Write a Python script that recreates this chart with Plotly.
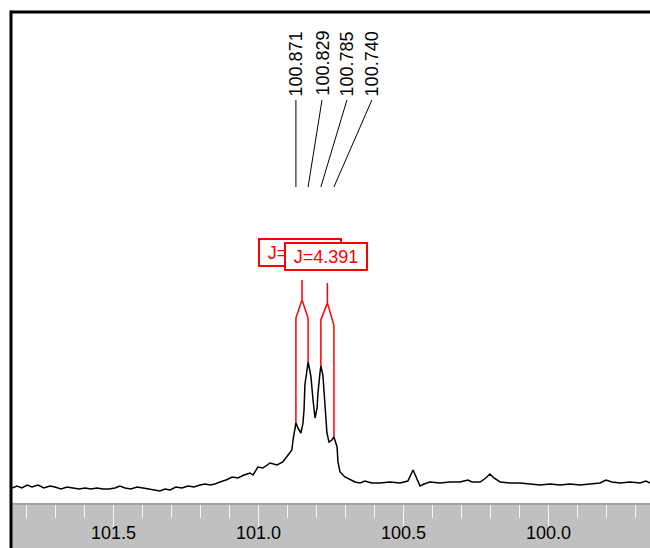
import numpy as np
import plotly.graph_objects as go

# ---- data ----
ppm = [101.850, 101.833, 101.816, 101.798, 101.781, 101.760, 101.740, 101.719, 101.702, 101.681,
       101.660, 101.640, 101.619, 101.598, 101.578, 101.557, 101.536, 101.516, 101.495, 101.478,
       101.460, 101.440, 101.419, 101.398, 101.378, 101.357, 101.340, 101.322, 101.305, 101.285,
       101.264, 101.243, 101.222, 101.202, 101.184, 101.167, 101.150, 101.133, 101.112, 101.091,
       101.071, 101.050, 101.029, 101.019, 101.002, 100.985, 100.960, 100.936, 100.916, 100.898,
       100.885, 100.881, 100.874, 100.871, 100.864, 100.854, 100.847, 100.843, 100.840, 100.833,
       100.829, 100.822, 100.819, 100.812, 100.809, 100.805, 100.798, 100.795, 100.788, 100.785,
       100.778, 100.771, 100.764, 100.757, 100.747, 100.740, 100.729, 100.726, 100.719, 100.702,
       100.684, 100.667, 100.650, 100.633, 100.622, 100.609, 100.581, 100.547, 100.512, 100.485,
       100.467, 100.457, 100.443, 100.429, 100.409, 100.374, 100.340, 100.305, 100.278, 100.264,
       100.236, 100.216, 100.202, 100.188, 100.167, 100.133, 100.098, 100.064, 100.029, 99.995,
       99.960, 99.926, 99.891, 99.857, 99.822, 99.802, 99.781, 99.753, 99.719, 99.684,
       99.664, 99.650]
intensity = [-1, 1, -1, 2, 0, 2, -1, 1, 0, -2,
             0, -1, -2, -1, -2, -1, -2, -2, -1, 1,
             -1, -2, 0, -1, -2, -3, -4, -2, -3, 0,
             -1, 1, 0, 2, 3, 2, 3, 5, 7, 10,
             9, 12, 14, 12, 20, 19, 24, 22, 25, 32,
             37, 47, 62, 64, 59, 54, 63, 77, 102, 120,
             125, 115, 110, 87, 80, 69, 79, 94, 114, 121,
             112, 80, 54, 45, 47, 50, 40, 25, 15, 10,
             7, 5, 4, 6, 5, 4, 4, 5, 4, 6,
             17, 10, 1, 3, 5, 4, 5, 5, 7, 5,
             5, 9, 13, 9, 5, 4, 4, 3, 2, 3,
             2, 3, 2, 3, 4, 7, 5, 4, 5, 4,
             6, 4]
assert len(ppm) == len(intensity)

peak_ppm = [100.871, 100.829, 100.785, 100.740]
peak_labels = ["100.871", "100.829", "100.785", "100.740"]
j_label = "J=4.391"
doublets = [(0, 1), (2, 3)]

tick_vals = [101.5, 101.0, 100.5, 100.0]
tick_text = ["101.5", "101.0", "100.5", "100.0"]

# ---- layout constants (positions / styles) ----
W, H = 650, 548
ML, MR, MT, MB = 12, 0, 13, 45
PW, PH = W - ML - MR, H - MT - MB
X_RANGE = [101.850, 99.650]
Y_RANGE = [-16, 474]
label_ppm = [100.871, 100.781, 100.695, 100.609]   # where the rotated labels sit
leader_low, leader_high, label_mid = 300, 387, 423.5
tent_top = [207, 204]
tent_split = [187, 184]
tent_shoulder = [(169, 169), (167, 162)]
FONT = "Liberation Sans, Arial, sans-serif"

fig = go.Figure()

# peak-pick leader lines
for p, lp in zip(peak_ppm, label_ppm):
    fig.add_trace(go.Scatter(x=[p, p, lp], y=[leader_low, leader_low, leader_high],
                             mode="lines", line=dict(color="black", width=1),
                             hoverinfo="skip", showlegend=False))

# J multiplet "tents"
peak_int = np.interp(peak_ppm[::-1], ppm[::-1], intensity[::-1])[::-1]
for k, (a, b) in enumerate(doublets):
    mid = (peak_ppm[a] + peak_ppm[b]) / 2
    xs = [peak_ppm[a], peak_ppm[a], mid, mid, mid, peak_ppm[b], peak_ppm[b]]
    ys = [peak_int[a], tent_shoulder[k][0], tent_split[k], tent_top[k], tent_split[k],
          tent_shoulder[k][1], peak_int[b]]
    fig.add_trace(go.Scatter(x=xs, y=ys, mode="lines", line=dict(color="#ff0000", width=1.5),
                             hoverinfo="skip", showlegend=False))

# spectrum
fig.add_trace(go.Scatter(x=ppm, y=intensity, mode="lines",
                         line=dict(color="black", width=1.5), showlegend=False))

annotations = []
for lp, txt in zip(label_ppm, peak_labels):
    annotations.append(dict(x=lp, y=label_mid, xref="x", yref="y", text=txt, textangle=-90,
                            showarrow=False, xanchor="center", yanchor="middle",
                            font=dict(family=FONT, size=18, color="black")))
for k, (a, b) in enumerate(doublets):
    mid = (peak_ppm[a] + peak_ppm[b]) / 2
    annotations.append(dict(x=mid, y=[235, 231][k], xref="x", yref="y", text=j_label,
                            showarrow=False, xanchor="center", yanchor="middle",
                            xshift=[-2, -1.5][k],
                            font=dict(family=FONT, size=18, color="#ff0000"),
                            bgcolor="white", bordercolor="#ff0000", borderwidth=2,
                            borderpad=1, width=78, height=23, align="center"))

shapes = [
    # grey axis band
    dict(type="rect", xref="paper", yref="paper", x0=0, x1=1, y0=-MB / PH, y1=0,
         fillcolor="#c0c0c0", line=dict(width=0), layer="below"),
    # top frame
    dict(type="line", xref="paper", yref="paper", x0=-2 / PW, x1=1, y0=1 + 1 / PH, y1=1 + 1 / PH,
         line=dict(color="black", width=3)),
    # left frame
    dict(type="line", xref="paper", yref="paper", x0=-1 / PW, x1=-1 / PW, y0=-MB / PH,
         y1=1 + 2.5 / PH, line=dict(color="black", width=3)),
]

fig.update_layout(
    width=W, height=H, margin=dict(l=ML, r=MR, t=MT, b=MB),
    paper_bgcolor="white", plot_bgcolor="white",
    annotations=annotations, shapes=shapes, showlegend=False,
    xaxis=dict(range=X_RANGE, showgrid=False, zeroline=False,
               showline=True, linecolor="#a4a4a4", linewidth=2,
               ticks="outside", ticklen=22, tickwidth=1, tickcolor="#f6f6f6",
               tickvals=tick_vals, ticktext=tick_text, ticklabelstandoff=-10,
               tickfont=dict(family=FONT, size=18, color="black"),
               minor=dict(dtick=0.1, tick0=0, ticks="outside", ticklen=13,
                          tickwidth=1, tickcolor="#f6f6f6", showgrid=False)),
    yaxis=dict(range=Y_RANGE, visible=False, fixedrange=True),
)

fig.write_html("out.html", config={"displayModeBar": False},
               post_script="document.body.style.margin='0';document.body.style.overflow='hidden';")
